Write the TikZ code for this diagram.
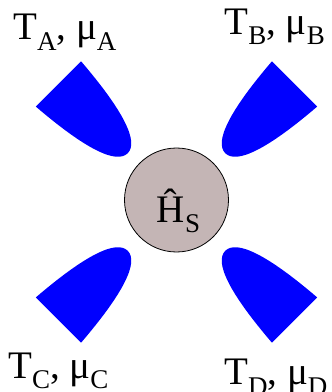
\documentclass[tikz,border=0pt]{standalone}
\usepackage{fontspec}
\setmainfont{Liberation Serif}
\definecolor{hsfill}{RGB}{196,181,181}
\definecolor{leadblue}{RGB}{0,0,255}
\newcommand{\lblsize}{\fontsize{39pt}{39pt}\selectfont}
\newcommand{\sbs}[1]{\raisebox{-10pt}{\fontsize{27pt}{27pt}\selectfont #1}}
\tikzset{
  leadshape/.style={fill=leadblue, draw=none},
  hsbox/.style={circle, draw=black, fill=hsfill, line width=0.8pt, minimum size=104pt, inner sep=0pt},
  lbl/.style={inner sep=0pt},
}
\newcommand{\leadpath}{(167,32) .. controls (102,27) and (69,16) .. (69,0) .. controls (69,-16) and (102,-27) .. (167,-32) -- cycle}
\begin{document}
\begin{tikzpicture}[x=1pt,y=1pt]
\useasboundingbox (0,0) rectangle (332,392);
\coordinate (ctr) at (176.5,190);
\foreach \ang in {135,45,225,-45}{
  \begin{scope}[shift={(ctr)}, rotate=\ang]
    \fill[leadshape] \leadpath;
  \end{scope}
}
\node[hsbox] (hs) at (176.5,192) {};
\node[lbl, anchor=base] (hslab) at (178.5,169) {\lblsize Ĥ\sbs{S}};
\node[lbl, anchor=base west] (la) at (13,352) {\lblsize T\sbs{A}, μ\sbs{A}};
\node[lbl, anchor=base east] (lb) at (325,357) {\lblsize T\sbs{B}, μ\sbs{B}};
\node[lbl, anchor=base west] (lc) at (8,13) {\lblsize T\sbs{C}, μ\sbs{C}};
\node[lbl, anchor=base west] (ld) at (224,7) {\lblsize T\sbs{D}, μ\sbs{D}};
\end{tikzpicture}
\end{document}
